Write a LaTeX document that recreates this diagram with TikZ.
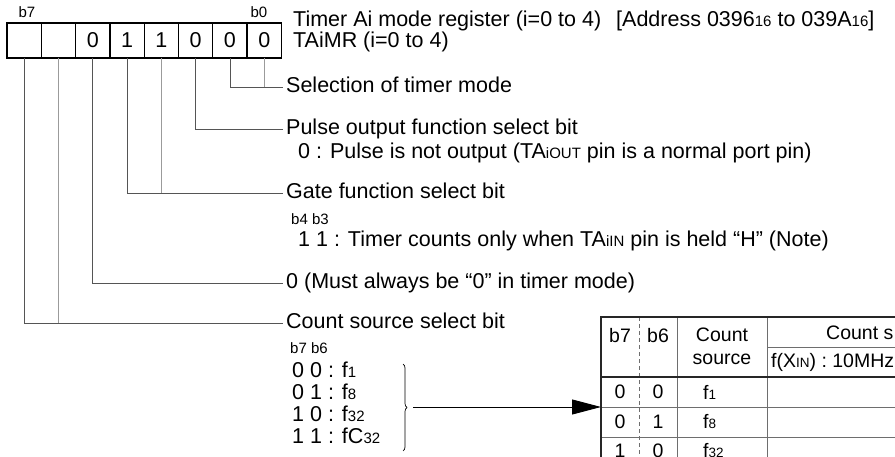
\documentclass[tikz,border=0pt]{standalone}
\usepackage{fontspec}
\setmainfont{Liberation Sans}
\usetikzlibrary{arrows.meta,positioning,decorations.pathreplacing}
\definecolor{wiregray}{RGB}{85,85,85}
\definecolor{wirelight}{RGB}{155,155,155}
\definecolor{gridgray}{RGB}{110,110,110}
\newcommand{\bigtxt}{\fontsize{21.5}{24}\selectfont}
\newcommand{\tbltxt}{\fontsize{19.5}{23}\selectfont}
\newcommand{\smtxt}{\fontsize{15}{16}\selectfont}
\newcommand{\lo}[1]{{\fontsize{15}{16}\selectfont #1}}
\newcommand{\tlo}[1]{{\fontsize{13.5}{14}\selectfont #1}}

\begin{document}
\begin{tikzpicture}[
    x=1pt, y=-1pt,
    cell/.style={rectangle,draw=black,line width=1.3pt,minimum width=34.3pt,
      minimum height=35pt,inner sep=0pt,outer sep=0pt,font=\bigtxt},
    bitno/.style={inner sep=0pt,font=\smtxt},
    lbl/.style={anchor=west,inner xsep=3pt,inner ysep=0pt,text height=15.5pt,
      text depth=5pt,font=\bigtxt},
    hint/.style={anchor=west,inner sep=0pt,font=\smtxt},
    tcell/.style={inner sep=0pt,font=\tbltxt},
    wire/.style={draw=wiregray,line width=0.9pt},
    wirelt/.style={draw=wirelight,line width=0.9pt},
    rule/.style={draw=black!85,line width=1.6pt},
    grid/.style={draw=gridgray,line width=0.7pt},
    arrow/.style={-{Triangle[length=29pt,width=15pt]},line width=0.9pt}
  ]
    \useasboundingbox (0,0) rectangle (895,457);

    \node[cell] (b7) at (24.15,40.5) {};
    \node[cell,right=0pt of b7] (b6) {};
    \node[cell,right=0pt of b6] (b5) {0};
    \node[cell,right=0pt of b5] (b4) {1};
    \node[cell,right=0pt of b4] (b3) {1};
    \node[cell,right=0pt of b3] (b2) {0};
    \node[cell,right=0pt of b2] (b1) {0};
    \node[cell,right=0pt of b1] (b0) {0};
    \node[bitno] (b7no) at (27,12) {b7};
    \node[bitno] (b0no) at (259,12) {b0};

    \node[lbl] (title) at (290,21) {Timer Ai mode register (i=0 to 4)\hspace{9pt} [Address 0396\lo{16} to 039A\lo{16}]};
    \node[lbl] (tname) at (290,42) {TAiMR (i=0 to 4)};
    \node[lbl] (sel) at (283,87) {Selection of timer mode};
    \node[lbl] (pulse) at (283,129) {Pulse output function select bit};
    \node[lbl] (pulse0) at (295,153) {0 : Pulse is not output (TA\lo{iOUT} pin is a normal port pin)};
    \node[lbl] (gate) at (283,193) {Gate function select bit};
    \node[hint] (gatebits) at (291,219) {b4 b3};
    \node[lbl] (gate11) at (295,241) {1 1 : Timer counts only when TA\lo{iIN} pin is held “H” (Note)};
    \node[lbl] (must) at (283,283) {0 (Must always be “0” in timer mode)};
    \node[lbl] (cnt) at (283,323) {Count source select bit};
    \node[hint] (cntbits) at (290,348) {b7 b6};
    \node[lbl] (c00) at (289,372) {0 0 : f\lo{1}};
    \node[lbl] (c01) at (289,394) {0 1 : f\lo{8}};
    \node[lbl] (c10) at (289,416) {1 0 : f\lo{32}};
    \node[lbl] (c11) at (289,438) {1 1 : fC\lo{32}};

    \draw[wire] (b1.south) |- (sel.west);
    \draw[wirelt] (b0.south) -- (b0.south |- sel.west);
    \draw[wire] (b2.south) |- (pulse.west);
    \draw[wire] (b4.south) |- (gate.west);
    \draw[wirelt] (b3.south) -- (b3.south |- gate.west);
    \draw[wire] (b5.south) |- (must.west);
    \draw[wire] (b7.south) |- (cnt.west);
    \draw[wirelt] (b6.south) -- (b6.south |- cnt.west);

    \draw[decorate,decoration={brace,amplitude=4pt},line width=0.7pt] (403,364) -- (403,451);
    \coordinate (brtip) at (407,407);
    \coordinate (tblin) at (601,407);
    \draw[arrow,shorten <=6pt] (brtip) -- (tblin);

    \begin{scope}
      \clip (0,0) rectangle (895,457);
      \draw[grid,dashed,dash pattern=on 4pt off 3pt] (639,317) -- (639,457);
      \draw[grid] (677,317) -- (677,457);
      \draw[grid] (767,317) -- (767,457);
      \draw[grid] (767,347) -- (895,347);
      \draw[grid] (601,407) -- (895,407);
      \draw[grid] (601,437) -- (895,437);
      \draw[rule] (601,457) -- (601,317) -- (895,317);
      \draw[rule] (601,377) -- (895,377);
      \node[tcell] (hb7) at (620,336) {b7};
      \node[tcell] (hb6) at (658,336) {b6};
      \node[tcell,align=center] (hsrc) at (722,346) {Count\\source};
      \node[tcell,anchor=west] (hper) at (826,333) {Count s};
      \node[tcell,anchor=west] (hfx) at (771,362) {f(X\tlo{IN}) : 10MHz};
      \node[tcell] (r1b7) at (620,392) {0};
      \node[tcell] (r1b6) at (658,392) {0};
      \node[tcell,anchor=west] (r1src) at (703,392) {f\tlo{1}};
      \node[tcell] (r2b7) at (620,422) {0};
      \node[tcell] (r2b6) at (658,422) {1};
      \node[tcell,anchor=west] (r2src) at (703,422) {f\tlo{8}};
      \node[tcell] (r3b7) at (620,451) {1};
      \node[tcell] (r3b6) at (658,451) {0};
      \node[tcell,anchor=west] (r3src) at (703,451) {f\tlo{32}};
    \end{scope}
  \end{tikzpicture}
\end{document}
